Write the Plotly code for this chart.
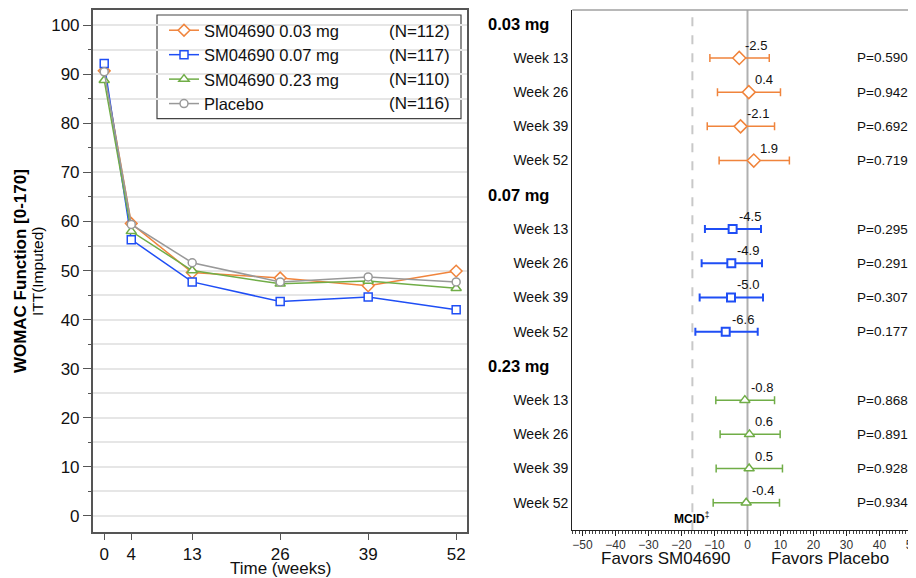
import plotly.graph_objects as go

# ---- left panel: WOMAC Function over time ----
weeks = [0, 4, 13, 26, 39, 52]
arm_names = ['SM04690 0.03 mg', 'SM04690 0.07 mg', 'SM04690 0.23 mg', 'Placebo']
arm_n = ['(N=112)', '(N=117)', '(N=110)', '(N=116)']
womac_003 = [90.7, 59.6, 49.6, 48.5, 46.9, 49.9]
womac_007 = [92.2, 56.3, 47.7, 43.7, 44.6, 42.0]
womac_023 = [88.8, 58.0, 50.0, 47.3, 47.9, 46.4]
womac_pbo = [90.5, 59.4, 51.6, 47.7, 48.7, 47.7]

# ---- right panel: difference vs placebo ----
dose_groups = ['0.03 mg', '0.07 mg', '0.23 mg']
week_labels = ['Week 13', 'Week 26', 'Week 39', 'Week 52']
diff_003 = [-2.5, 0.4, -2.1, 1.9]
lo_003 = [-11.4, -9.1, -12.2, -8.6]
hi_003 = [6.6, 10.0, 8.2, 12.7]
p_003 = ['P=0.590', 'P=0.942', 'P=0.692', 'P=0.719']
diff_007 = [-4.5, -4.9, -5.0, -6.6]
lo_007 = [-12.9, -13.9, -14.5, -15.8]
hi_007 = [4.1, 4.4, 4.7, 3.1]
p_007 = ['P=0.295', 'P=0.291', 'P=0.307', 'P=0.177']
diff_023 = [-0.8, 0.6, 0.5, -0.4]
lo_023 = [-9.6, -8.3, -9.5, -10.4]
hi_023 = [8.2, 9.9, 10.6, 9.7]
p_023 = ['P=0.868', 'P=0.891', 'P=0.928', 'P=0.934']
mcid = -16.7

colors = ['#F0843C', '#1F4EF5', '#70AD47', '#999999']
symbols = ['diamond', 'square', 'triangle-up', 'circle']
msizes = [9, 8, 9, 8]

W, H = 916, 578
OFF = 8  # page body margin offsets the figure in the window
FONT = 'Arial, Liberation Sans, sans-serif'


def px(x):
    return min(1, max(0, (x - OFF) / W))


def py(y):
    return min(1, max(0, 1 - (y - OFF) / H))


def note(x, y, text, size, **kw):
    # paper-placed text, coordinates given as window pixels
    fig.add_annotation(x=px(x), y=py(y), xref='paper', yref='paper', text=text, showarrow=False,
                       xanchor=kw.pop('xanchor', 'center'), yanchor='middle',
                       font=dict(size=size, color=kw.pop('color', '#111'), family=FONT), **kw)


fig = go.Figure()

for name, vals, col, sym, ms in zip(arm_names, [womac_003, womac_007, womac_023, womac_pbo],
                                    colors, symbols, msizes):
    fig.add_trace(go.Scatter(
        x=weeks, y=vals, name=name, mode='lines+markers',
        line=dict(color=col, width=1.5),
        marker=dict(symbol=sym, size=ms, color='white', line=dict(color=col, width=1.5)),
        xaxis='x', yaxis='y',
    ))

# forest plot rows: header at 0, 5, 10 ; weeks below each
forest = [(diff_003, lo_003, hi_003, p_003), (diff_007, lo_007, hi_007, p_007),
          (diff_023, lo_023, hi_023, p_023)]
week_rows = []
week_text = []
for g, (d, lo, hi, pv) in enumerate(forest):
    rows = [g * 5 + 1 + i for i in range(len(d))]
    week_rows += rows
    week_text += week_labels
    fig.add_trace(go.Scatter(
        x=d, y=rows, mode='markers', showlegend=False,
        marker=dict(symbol=symbols[g], size=msizes[g] + (1 if g == 0 else 0),
                    color='white', line=dict(color=colors[g], width=2 if g == 1 else 1.5)),
        error_x=dict(type='data', symmetric=False,
                     array=[h - v for h, v in zip(hi, d)],
                     arrayminus=[v - l for l, v in zip(lo, d)],
                     color=colors[g], thickness=2 if g == 1 else 1.5, width=4),
        xaxis='x2', yaxis='y2',
    ))
    for v, r in zip(d, rows):
        fig.add_annotation(x=v, y=r, xref='x2', yref='y2', text='%.1f' % v, showarrow=False,
                           xanchor='left', yanchor='bottom', xshift=4, yshift=3,
                           font=dict(size=13, color='#111', family=FONT))
    fig.add_annotation(x=px(486), xref='paper', y=g * 5, yref='y2', text='<b>%s</b>' % dose_groups[g],
                       showarrow=False, xanchor='left', yanchor='middle',
                       font=dict(size=16.5, color='black', family=FONT))
    for r, p in zip(rows, pv):
        fig.add_annotation(x=px(910), xref='paper', y=r, yref='y2', text=p, showarrow=False,
                           xanchor='right', yanchor='middle', font=dict(size=13.5, color='#111', family=FONT))

# reference lines
fig.add_shape(type='line', xref='x2', yref='y2 domain', x0=0, x1=0, y0=0, y1=1,
              line=dict(color='#B0B0B0', width=2), layer='below')
fig.add_shape(type='line', xref='x2', yref='y2 domain', x0=mcid, x1=mcid, y0=0, y1=1,
              line=dict(color='#C8C8C8', width=2, dash='dash'), layer='below')
fig.add_shape(type='line', xref='x2 domain', yref='y2 domain', x0=0, x1=1, y0=1, y1=1,
              line=dict(color='#A0A0A0', width=1.5))
fig.add_annotation(x=mcid, xref='x2', y=14.45, yref='y2', text='<b>MCID</b><sup>‡</sup>', showarrow=False,
                   xanchor='center', yanchor='middle', font=dict(size=12, color='black', family=FONT))

# legend box and N labels
fig.add_shape(type='rect', xref='paper', yref='paper', x0=px(157), x1=px(461), y0=py(117), y1=py(13),
              line=dict(color='#444', width=1.2), fillcolor='white', layer='below')
for i, n in enumerate(arm_n):
    note(452, 30 + 24 * i, n, 17, xanchor='right')

# axis titles
note(20, 270, '<b>WOMAC Function [0-170]</b>', 17, textangle=-90, color='black')
note(37, 270, 'ITT(Imputed)', 15.5, textangle=-90, color='black')
note(280, 568, 'Time (weeks)', 17)
note(665, 558, 'Favors SM04690', 17)
note(830, 558, 'Favors Placebo', 17)

fig.update_layout(
    width=W, height=H,
    margin=dict(l=0, r=0, t=0, b=0),
    paper_bgcolor='white', plot_bgcolor='white',
    font=dict(family=FONT, color='#111'),
    showlegend=True,
    legend=dict(x=px(164), y=py(11), xanchor='left', yanchor='top', bgcolor='rgba(0,0,0,0)',
                borderwidth=0, font=dict(size=16.5, color='#111', family=FONT)),
    xaxis=dict(domain=[px(92.7), px(467)], range=[-1.7, 53.6], tickvals=weeks,
               ticks='outside', ticklen=6, tickcolor='#555', showline=True, linecolor='#555',
               linewidth=1.5, mirror=True, showgrid=False, zeroline=False,
               tickfont=dict(size=17, color='#111')),
    yaxis=dict(domain=[py(532), py(8)], range=[-3.3, 103.1], tickvals=list(range(0, 101, 10)),
               ticks='outside', ticklen=8, tickcolor='#555', showline=True, linecolor='#555',
               linewidth=1.5, mirror=True, showgrid=True, gridcolor='#E6E6E6', gridwidth=1.5,
               zeroline=False, tickfont=dict(size=17, color='#111'),
               minor=dict(dtick=5, ticks='outside', ticklen=3, tickcolor='#555', showgrid=True,
                          gridcolor='#E6E6E6', gridwidth=1.5)),
    xaxis2=dict(domain=[px(572.3), 1], range=[-53.1, 53.5], tickvals=list(range(-50, 51, 10)),
                ticks='outside', ticklen=5, tickcolor='#222', showline=True, linecolor='#222',
                linewidth=1.2, showgrid=False, zeroline=False, anchor='y2',
                tickfont=dict(size=12, color='#333'), ticklabelstandoff=-2,
                minor=dict(dtick=1, ticks='outside', ticklen=3, tickcolor='#444')),
    yaxis2=dict(domain=[py(530), py(8)], range=[14.8, -0.4], tickvals=week_rows, ticktext=week_text,
                ticks='', showline=True, linecolor='#222', linewidth=1.2, showgrid=False,
                zeroline=False, anchor='x2', tickfont=dict(size=14, color='#111')),
)

fig.write_html('out.html')
